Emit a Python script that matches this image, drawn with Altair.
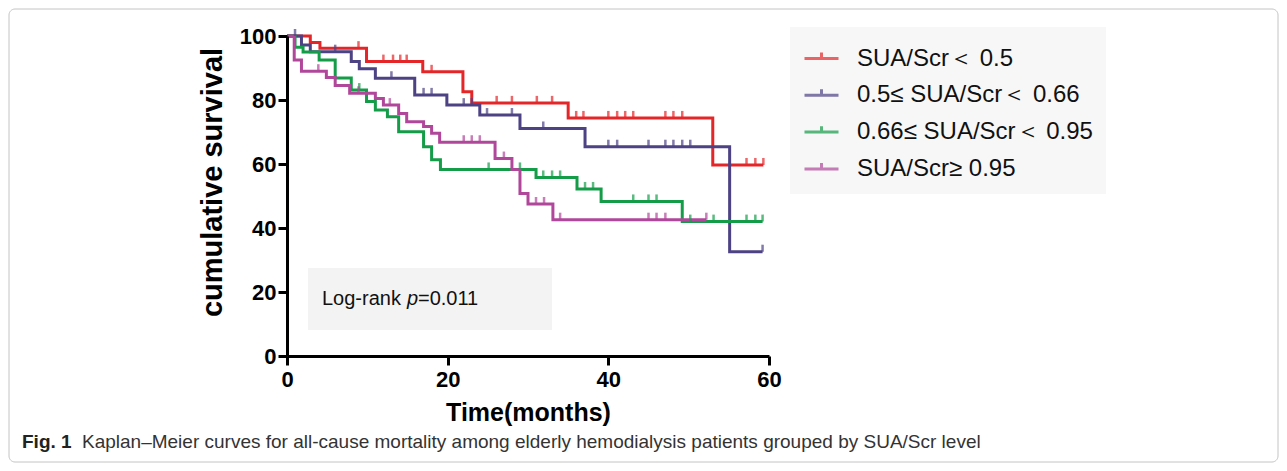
import altair as alt
import pandas as pd

FONT = "Liberation Sans"

groups = ["SUA/Scr＜ 0.5", "0.5≤ SUA/Scr＜ 0.66", "0.66≤ SUA/Scr＜ 0.95", "SUA/Scr≥ 0.95"]
colors = ["#E52629", "#4D4284", "#149C48", "#B0479A"]

# Kaplan-Meier step curves (time in months, survival in %)
red_time = [0, 2.9, 4.1, 9.9, 16.9, 21.9, 23.0, 35.0, 53.0, 59.3]
red_surv = [100, 98.0, 96.2, 92.0, 88.8, 82.6, 79.1, 74.4, 59.7, 59.7]
red_cens = [8.9, 12.0, 13.2, 14.1, 14.9, 18.0, 26.1, 28.0, 31.1, 33.0, 36.0, 36.9,
            40.0, 41.1, 42.1, 43.1, 47.1, 48.1, 49.2, 57.2, 58.3, 59.3]

pur_time = [0, 1.8, 2.9, 8.0, 9.0, 11.0, 15.9, 19.9, 24.0, 29.0, 37.1, 55.1, 59.2]
pur_surv = [100, 97.2, 95.1, 92.0, 89.8, 86.8, 81.6, 78.4, 75.3, 71.1, 65.4, 32.6, 32.6]
pur_cens = [1.0, 6.0, 13.0, 17.0, 18.0, 22.0, 23.0, 24.9, 28.0, 31.9, 40.0, 41.1,
            45.0, 47.1, 48.1, 49.2, 50.2, 59.2]

grn_time = [0, 1.0, 2.0, 4.0, 6.0, 8.0, 9.9, 11.0, 12.5, 13.9, 17.0, 18.0, 19.1,
            31.0, 36.1, 39.1, 49.2, 59.2]
grn_surv = [100, 96.5, 95.0, 92.5, 86.9, 83.1, 79.5, 76.9, 74.8, 70.1, 65.4, 61.3, 58.3,
            55.8, 52.2, 48.3, 42.0, 42.0]
grn_cens = [9.0, 25.1, 29.0, 31.9, 33.0, 34.0, 37.1, 38.1, 43.1, 45.0, 46.0, 50.2,
            53.1, 57.2, 58.3, 59.2]

mag_time = [0, 0.9, 1.8, 4.9, 6.0, 7.8, 11.0, 12.0, 13.9, 14.9, 17.0, 18.0, 19.0,
            25.9, 28.0, 29.0, 30.0, 33.1, 52.2]
mag_surv = [100, 92.5, 89.0, 87.0, 84.5, 82.1, 80.5, 78.4, 75.8, 73.2, 71.7, 69.6, 66.8,
            61.7, 58.3, 50.8, 47.5, 42.6, 42.6]
mag_cens = [3.9, 8.9, 12.8, 22.0, 23.0, 24.0, 27.0, 31.0, 32.0, 34.0, 45.0, 46.0, 47.1, 52.2]

x_ticks = [0, 20, 40, 60]
y_ticks = [0, 20, 40, 60, 80, 100]

series = [
    (groups[0], red_time, red_surv, red_cens),
    (groups[1], pur_time, pur_surv, pur_cens),
    (groups[2], grn_time, grn_surv, grn_cens),
    (groups[3], mag_time, mag_surv, mag_cens),
]


def level_at(times, survs, t):
    val = survs[0]
    for ti, si in zip(times, survs):
        if ti <= t:
            val = si
    return val


line_rows, cens_rows = [], []
for name, ts, ss, cs in series:
    for t, s in zip(ts, ss):
        line_rows.append({"group": name, "time": t, "surv": s})
    for c in cs:
        cens_rows.append({"group": name, "time": c, "surv": level_at(ts, ss, c)})
lines_df = pd.DataFrame(line_rows)
cens_df = pd.DataFrame(cens_rows)

xscale = alt.Scale(domain=[0, 60], nice=False, zero=False)
yscale = alt.Scale(domain=[0, 100], nice=False)

x_enc = alt.X("time:Q", scale=xscale,
              axis=alt.Axis(values=x_ticks, title="Time(months)", labelFontSize=22,
                            labelFontWeight="bold", titleFontSize=25, titleFontWeight="bold",
                            labelPadding=4, titlePadding=10, tickSize=9, tickWidth=3,
                            domainWidth=3, labelFont=FONT, titleFont=FONT, format="d",
                            labelFlush=False, zindex=1))
y_enc = alt.Y("surv:Q", scale=yscale,
              axis=alt.Axis(values=y_ticks, title="cumulative survival", labelFontSize=22,
                            labelFontWeight="bold", titleFontSize=29, titleFontWeight="bold",
                            labelPadding=2, titlePadding=12, tickSize=9, tickWidth=3,
                            domainWidth=3, labelFont=FONT, titleFont=FONT, format="d",
                            labelFlush=False, titleY=146, zindex=1))

color_enc = alt.Color(
    "group:N",
    scale=alt.Scale(domain=groups, range=colors),
    sort=groups,
    legend=alt.Legend(orient="none", legendX=503, legendY=-9, title=None,
                      symbolType="M-1,0H1M0,0V-0.35", symbolSize=1156,
                      symbolStrokeWidth=3, symbolFillColor="transparent",
                      labelFontSize=24, labelFont=FONT, labelColor="#111111",
                      labelOffset=17, labelLimit=500, rowPadding=5.8, padding=13,
                      fillColor="#F7F7F7"),
)

one = pd.DataFrame({"k": [0]})

frame = alt.Chart(one).mark_rect(fill="transparent", stroke="#C4C4C4", strokeWidth=1,
                                 cornerRadius=6).encode(
    x=alt.value(-278), x2=alt.value(991), y=alt.value(-27), y2=alt.value(426))

box = alt.Chart(one).mark_rect(fill="#F3F3F3").encode(
    x=alt.value(21), x2=alt.value(265), y=alt.value(232), y2=alt.value(294))

lines = alt.Chart(lines_df).mark_line(interpolate="step-after", strokeWidth=3).encode(
    x=x_enc, y=y_enc, color=color_enc, detail="group:N")

cens = alt.Chart(cens_df).mark_tick(orient="vertical", size=7, thickness=2.5,
                                    yOffset=-3.5).encode(
    x="time:Q", y="surv:Q", color=color_enc)

t1 = alt.Chart(one).mark_text(align="left", baseline="alphabetic", fontSize=20,
                              font=FONT, color="#111111").encode(
    x=alt.value(35), y=alt.value(269), text=alt.value("Log-rank"))
t2 = alt.Chart(one).mark_text(align="left", baseline="alphabetic", fontSize=20,
                              font=FONT, fontStyle="italic", color="#111111").encode(
    x=alt.value(120), y=alt.value(269), text=alt.value("p"))
t3 = alt.Chart(one).mark_text(align="left", baseline="alphabetic", fontSize=20,
                              font=FONT, color="#111111").encode(
    x=alt.value(131), y=alt.value(269), text=alt.value("=0.011"))

cap1 = alt.Chart(one).mark_text(align="left", baseline="alphabetic", fontSize=19,
                                font=FONT, fontWeight="bold", color="#222222").encode(
    x=alt.value(-265), y=alt.value(412), text=alt.value("Fig. 1"))
cap2 = alt.Chart(one).mark_text(align="left", baseline="alphabetic", fontSize=19,
                                font=FONT, color="#333333").encode(
    x=alt.value(-205), y=alt.value(412),
    text=alt.value("Kaplan–Meier curves for all-cause mortality among elderly hemodialysis patients grouped by SUA/Scr level"))

chart = alt.layer(frame, box, lines, cens, t1, t2, t3, cap1, cap2).properties(
    width=482, height=320,
    padding={"left": 279, "top": 28, "right": 510, "bottom": 107},
    autosize=alt.AutoSizeParams(type="none"),
).configure_axis(
    grid=False, domainColor="black", tickColor="black", labelColor="black", titleColor="black"
).configure_view(strokeWidth=0)

chart.save("out.html", embed_options={"renderer": "svg", "actions": False})
